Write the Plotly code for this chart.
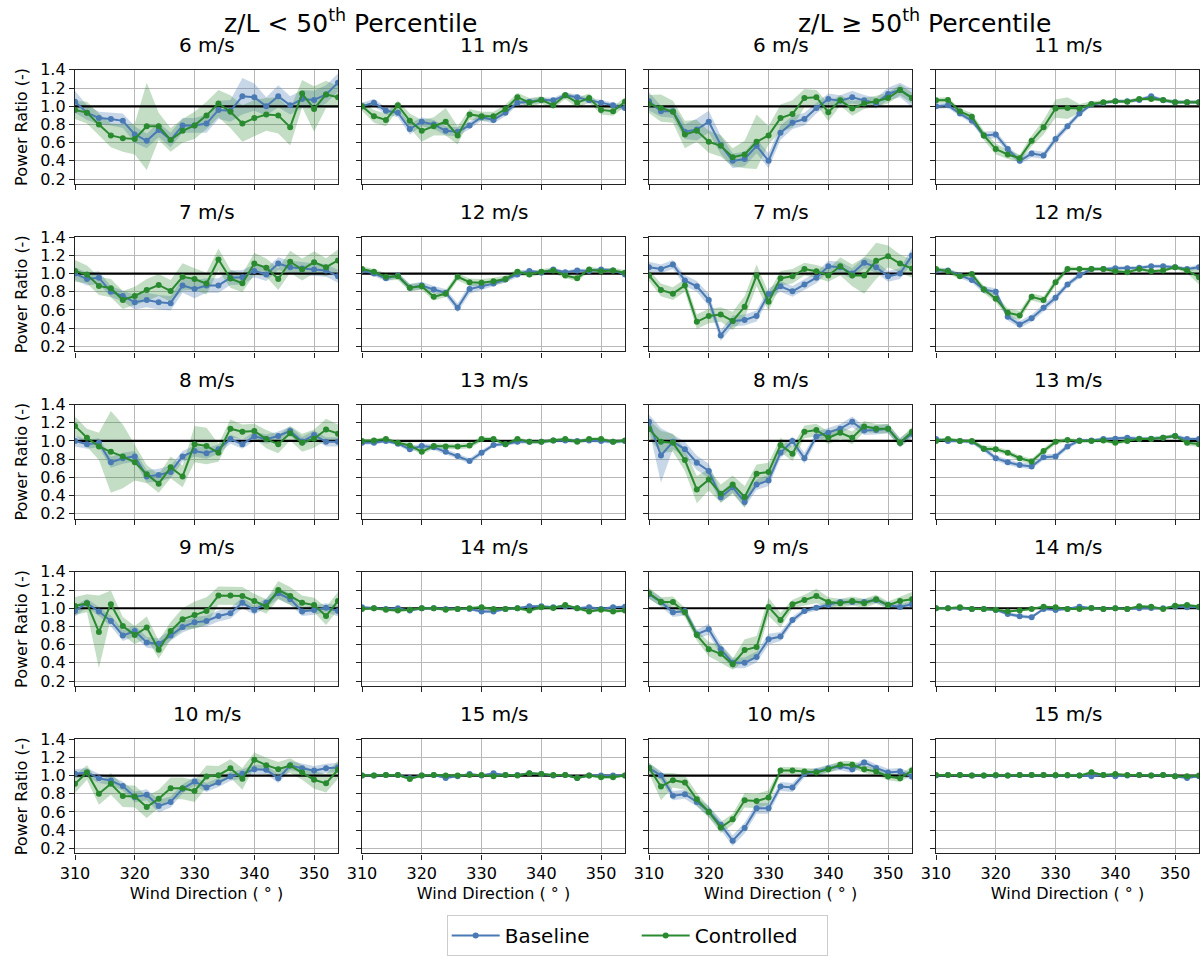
import plotly.graph_objects as go

# ---------------- data ----------------
wind_dir = [310, 312, 314, 316, 318, 320, 322, 324, 326, 328, 330, 332,
            334, 336, 338, 340, 342, 344, 346, 348, 350, 352, 354]
reference_ratio = 1.0

# z/L < 50th percentile
low_6_base = [1.05, 0.93, 0.87, 0.86, 0.84, 0.69, 0.62, 0.74, 0.63, 0.79, 0.79, 0.81, 0.96, 0.95, 1.11, 1.10, 1.00, 1.11, 1.01, 1.08, 1.07, 1.13, 1.26]
low_6_base_err = [0.12, 0.08, 0.07, 0.07, 0.08, 0.09, 0.08, 0.08, 0.08, 0.08, 0.08, 0.10, 0.10, 0.12, 0.20, 0.15, 0.10, 0.12, 0.10, 0.10, 0.10, 0.10, 0.10]
low_6_ctrl = [0.96, 0.93, 0.80, 0.68, 0.65, 0.64, 0.78, 0.78, 0.63, 0.73, 0.79, 0.90, 1.03, 0.94, 0.81, 0.87, 0.91, 0.90, 0.77, 1.14, 0.97, 1.13, 1.10]
low_6_ctrl_err = [0.10, 0.12, 0.12, 0.13, 0.15, 0.17, 0.48, 0.15, 0.13, 0.13, 0.15, 0.15, 0.15, 0.18, 0.20, 0.20, 0.18, 0.20, 0.20, 0.15, 0.25, 0.15, 0.12]

low_7_base = [1.00, 0.94, 0.955, 0.80, 0.755, 0.685, 0.71, 0.685, 0.675, 0.87, 0.83, 0.87, 0.87, 0.955, 0.96, 1.03, 0.99, 1.11, 1.07, 1.055, 1.045, 1.035, 0.97]
low_7_base_err = [0.07, 0.07, 0.07, 0.06, 0.06, 0.08, 0.08, 0.08, 0.08, 0.08, 0.10, 0.08, 0.08, 0.08, 0.08, 0.07, 0.07, 0.07, 0.07, 0.07, 0.07, 0.07, 0.07]
low_7_ctrl = [1.03, 0.99, 0.865, 0.84, 0.71, 0.755, 0.82, 0.875, 0.81, 0.965, 0.94, 0.89, 1.155, 0.945, 0.895, 1.11, 1.065, 0.94, 1.13, 1.045, 1.125, 1.07, 1.145]
low_7_ctrl_err = [0.12, 0.10, 0.10, 0.10, 0.10, 0.10, 0.12, 0.12, 0.12, 0.15, 0.12, 0.12, 0.12, 0.10, 0.10, 0.12, 0.10, 0.12, 0.12, 0.12, 0.12, 0.10, 0.12]

low_8_base = [1.00, 0.965, 0.98, 0.765, 0.81, 0.83, 0.61, 0.625, 0.66, 0.83, 0.89, 0.865, 0.91, 1.02, 0.965, 1.05, 1.02, 1.055, 1.11, 0.995, 1.065, 0.99, 0.99]
low_8_base_err = [0.06, 0.05, 0.05, 0.06, 0.06, 0.06, 0.07, 0.07, 0.07, 0.06, 0.06, 0.06, 0.05, 0.05, 0.05, 0.05, 0.05, 0.05, 0.05, 0.05, 0.05, 0.05, 0.05]
low_8_ctrl = [1.165, 1.035, 0.94, 0.88, 0.83, 0.765, 0.635, 0.53, 0.71, 0.61, 0.965, 0.945, 0.87, 1.135, 1.10, 1.11, 1.02, 0.965, 1.085, 0.98, 1.025, 1.125, 1.08]
low_8_ctrl_err = [0.10, 0.10, 0.15, 0.45, 0.35, 0.20, 0.10, 0.10, 0.12, 0.12, 0.20, 0.20, 0.10, 0.10, 0.08, 0.08, 0.10, 0.10, 0.08, 0.10, 0.10, 0.12, 0.10]

low_9_base = [0.97, 1.055, 0.965, 0.86, 0.70, 0.75, 0.625, 0.61, 0.70, 0.795, 0.845, 0.86, 0.915, 0.945, 1.06, 0.98, 1.06, 1.165, 1.10, 0.965, 0.98, 1.005, 0.97]
low_9_base_err = [0.06, 0.05, 0.05, 0.06, 0.06, 0.06, 0.06, 0.06, 0.06, 0.06, 0.06, 0.06, 0.06, 0.06, 0.06, 0.05, 0.05, 0.06, 0.06, 0.05, 0.05, 0.05, 0.06]
low_9_ctrl = [1.025, 1.055, 0.74, 1.045, 0.805, 0.705, 0.79, 0.545, 0.75, 0.88, 0.925, 0.97, 1.14, 1.14, 1.135, 1.08, 1.02, 1.20, 1.135, 1.06, 1.035, 0.915, 1.08]
low_9_ctrl_err = [0.10, 0.10, 0.40, 0.15, 0.10, 0.10, 0.12, 0.10, 0.10, 0.12, 0.15, 0.15, 0.10, 0.10, 0.10, 0.08, 0.08, 0.10, 0.10, 0.08, 0.08, 0.10, 0.10]

low_10_base = [1.02, 1.035, 0.97, 0.945, 0.885, 0.765, 0.79, 0.665, 0.71, 0.855, 0.935, 0.87, 0.925, 0.99, 1.02, 1.07, 1.065, 0.97, 1.11, 1.08, 1.055, 1.08, 1.09]
low_10_base_err = [0.05, 0.05, 0.05, 0.05, 0.05, 0.06, 0.06, 0.07, 0.06, 0.05, 0.05, 0.05, 0.05, 0.05, 0.05, 0.05, 0.05, 0.05, 0.05, 0.05, 0.05, 0.05, 0.05]
low_10_ctrl = [0.91, 1.035, 0.80, 0.91, 0.775, 0.77, 0.655, 0.745, 0.86, 0.86, 0.83, 0.99, 1.005, 1.08, 0.965, 1.175, 1.115, 1.07, 1.11, 1.035, 0.955, 0.915, 1.065]
low_10_ctrl_err = [0.10, 0.08, 0.12, 0.12, 0.12, 0.12, 0.12, 0.10, 0.12, 0.12, 0.12, 0.12, 0.10, 0.10, 0.12, 0.08, 0.08, 0.08, 0.08, 0.08, 0.10, 0.10, 0.10]

low_11_base = [1.00, 1.04, 0.95, 0.93, 0.75, 0.83, 0.80, 0.73, 0.72, 0.79, 0.88, 0.85, 0.93, 1.04, 1.05, 1.07, 1.065, 1.12, 1.10, 1.065, 1.04, 1.01, 0.98]
low_11_base_err = [0.04, 0.04, 0.04, 0.05, 0.06, 0.05, 0.05, 0.05, 0.05, 0.04, 0.04, 0.04, 0.04, 0.03, 0.03, 0.03, 0.03, 0.03, 0.03, 0.03, 0.03, 0.03, 0.03]
low_11_ctrl = [1.00, 0.89, 0.85, 1.01, 0.84, 0.73, 0.78, 0.83, 0.68, 0.91, 0.89, 0.89, 0.97, 1.10, 1.04, 1.07, 1.01, 1.12, 1.04, 1.09, 0.96, 0.945, 1.05]
low_11_ctrl_err = [0.05, 0.07, 0.07, 0.05, 0.08, 0.12, 0.10, 0.15, 0.10, 0.06, 0.05, 0.05, 0.05, 0.05, 0.05, 0.04, 0.04, 0.04, 0.06, 0.05, 0.05, 0.05, 0.05]

low_12_base = [1.035, 1.00, 0.95, 0.98, 0.845, 0.87, 0.825, 0.79, 0.625, 0.83, 0.86, 0.89, 0.935, 0.99, 1.03, 1.01, 1.045, 1.015, 1.035, 1.03, 1.045, 1.035, 0.99]
low_12_base_err = [0.03, 0.03, 0.03, 0.03, 0.04, 0.04, 0.04, 0.04, 0.05, 0.05, 0.04, 0.03, 0.03, 0.03, 0.02, 0.02, 0.02, 0.02, 0.02, 0.02, 0.02, 0.02, 0.02]
low_12_ctrl = [1.05, 1.02, 0.965, 0.97, 0.845, 0.86, 0.745, 0.78, 0.965, 0.905, 0.90, 0.915, 0.94, 1.02, 0.99, 1.02, 1.035, 0.98, 0.95, 1.045, 1.025, 1.035, 1.01]
low_12_ctrl_err = [0.03, 0.03, 0.04, 0.04, 0.04, 0.04, 0.04, 0.04, 0.04, 0.04, 0.04, 0.04, 0.04, 0.03, 0.03, 0.03, 0.03, 0.03, 0.03, 0.03, 0.03, 0.03, 0.03]

low_13_base = [0.98, 0.98, 1.00, 0.97, 0.91, 0.945, 0.93, 0.88, 0.835, 0.78, 0.87, 0.955, 0.965, 0.99, 0.99, 0.99, 1.005, 1.005, 1.00, 1.005, 1.00, 0.99, 1.00]
low_13_base_err = [0.02, 0.02, 0.02, 0.02, 0.03, 0.03, 0.03, 0.03, 0.03, 0.03, 0.03, 0.02, 0.02, 0.02, 0.02, 0.02, 0.02, 0.02, 0.02, 0.02, 0.02, 0.02, 0.02]
low_13_ctrl = [1.00, 1.005, 1.02, 0.98, 0.95, 0.88, 0.945, 0.94, 0.94, 0.95, 1.02, 1.02, 0.965, 1.02, 0.99, 0.99, 1.005, 1.02, 0.99, 1.02, 1.02, 0.99, 1.005]
low_13_ctrl_err = [0.02, 0.02, 0.02, 0.02, 0.03, 0.03, 0.03, 0.03, 0.03, 0.03, 0.03, 0.02, 0.02, 0.02, 0.02, 0.02, 0.02, 0.02, 0.02, 0.02, 0.02, 0.02, 0.02]

low_14_base = [1.011, 1.0, 0.993, 1.0, 0.975, 1.0, 1.0, 0.993, 0.993, 0.993, 0.964, 0.964, 0.993, 1.0, 1.022, 1.022, 1.011, 1.022, 1.0, 1.011, 0.993, 1.011, 1.018]
low_14_base_err = [0.015, 0.015, 0.015, 0.015, 0.015, 0.015, 0.015, 0.015, 0.015, 0.015, 0.02, 0.02, 0.015, 0.015, 0.015, 0.015, 0.015, 0.015, 0.015, 0.015, 0.015, 0.015, 0.015]
low_14_ctrl = [0.993, 1.0, 0.985, 0.975, 0.985, 1.0, 1.0, 0.985, 0.993, 1.0, 1.011, 0.993, 0.993, 1.0, 0.975, 1.011, 1.004, 1.036, 1.0, 0.964, 0.985, 0.964, 0.975]
low_14_ctrl_err = [0.015, 0.015, 0.015, 0.015, 0.015, 0.015, 0.015, 0.015, 0.015, 0.015, 0.015, 0.015, 0.015, 0.015, 0.015, 0.015, 0.015, 0.015, 0.015, 0.02, 0.015, 0.02, 0.02]

low_15_base = [1.0, 1.0, 1.007, 1.007, 0.975, 1.0, 1.007, 0.975, 0.993, 1.018, 1.0, 1.025, 1.007, 1.007, 1.025, 1.018, 1.0, 1.007, 0.975, 1.0, 1.0, 1.0, 1.0]
low_15_base_err = [0.012, 0.012, 0.012, 0.012, 0.012, 0.012, 0.012, 0.012, 0.012, 0.012, 0.012, 0.012, 0.012, 0.012, 0.012, 0.012, 0.012, 0.012, 0.012, 0.012, 0.012, 0.012, 0.012]
low_15_ctrl = [1.0, 1.0, 1.007, 1.007, 0.964, 1.0, 1.007, 1.0, 1.0, 1.007, 1.007, 0.993, 1.007, 1.0, 1.025, 1.018, 1.007, 1.007, 0.975, 1.0, 0.982, 0.982, 1.0]
low_15_ctrl_err = [0.012, 0.012, 0.012, 0.012, 0.015, 0.012, 0.012, 0.012, 0.012, 0.012, 0.012, 0.012, 0.012, 0.012, 0.012, 0.012, 0.012, 0.012, 0.012, 0.012, 0.012, 0.012, 0.012]

# z/L >= 50th percentile
high_6_base = [1.055, 0.945, 0.945, 0.72, 0.745, 0.83, 0.575, 0.40, 0.42, 0.565, 0.40, 0.71, 0.82, 0.86, 0.98, 1.08, 1.06, 1.10, 1.065, 1.035, 1.135, 1.18, 1.09]
high_6_base_err = [0.10, 0.06, 0.07, 0.08, 0.12, 0.12, 0.10, 0.08, 0.08, 0.08, 0.08, 0.08, 0.07, 0.07, 0.06, 0.06, 0.06, 0.07, 0.06, 0.06, 0.07, 0.08, 0.10]
high_6_ctrl = [1.025, 0.98, 0.94, 0.69, 0.73, 0.61, 0.565, 0.44, 0.47, 0.61, 0.68, 0.87, 0.915, 1.09, 1.10, 0.935, 1.065, 0.975, 1.03, 1.055, 1.09, 1.18, 1.09]
high_6_ctrl_err = [0.10, 0.15, 0.12, 0.15, 0.12, 0.12, 0.12, 0.10, 0.15, 0.30, 0.10, 0.15, 0.15, 0.10, 0.08, 0.10, 0.06, 0.08, 0.06, 0.06, 0.06, 0.06, 0.06]

high_7_base = [1.07, 1.05, 1.10, 0.925, 0.86, 0.71, 0.32, 0.48, 0.49, 0.535, 0.775, 0.86, 0.805, 0.88, 0.955, 1.08, 1.07, 1.00, 1.12, 1.07, 0.97, 1.00, 1.20]
high_7_base_err = [0.06, 0.05, 0.05, 0.06, 0.06, 0.07, 0.06, 0.06, 0.06, 0.06, 0.06, 0.06, 0.06, 0.06, 0.06, 0.06, 0.06, 0.06, 0.06, 0.06, 0.06, 0.06, 0.08]
high_7_ctrl = [0.98, 0.82, 0.78, 0.87, 0.47, 0.535, 0.55, 0.48, 0.635, 0.98, 0.69, 0.95, 0.97, 1.05, 1.025, 0.98, 1.08, 0.98, 0.98, 1.14, 1.19, 1.11, 1.055]
high_7_ctrl_err = [0.06, 0.07, 0.07, 0.07, 0.08, 0.08, 0.08, 0.10, 0.12, 0.12, 0.10, 0.08, 0.08, 0.07, 0.07, 0.07, 0.10, 0.12, 0.20, 0.20, 0.12, 0.10, 0.10]

high_8_base = [1.21, 0.84, 0.99, 0.91, 0.76, 0.67, 0.38, 0.49, 0.33, 0.52, 0.565, 0.87, 1.00, 0.81, 1.05, 1.09, 1.135, 1.21, 1.115, 1.12, 1.135, 0.98, 1.08]
high_8_base_err = [0.08, 0.30, 0.08, 0.08, 0.08, 0.08, 0.06, 0.06, 0.06, 0.06, 0.06, 0.06, 0.05, 0.06, 0.05, 0.05, 0.05, 0.06, 0.05, 0.05, 0.05, 0.05, 0.05]
high_8_ctrl = [1.13, 0.99, 0.98, 0.79, 0.465, 0.575, 0.42, 0.52, 0.385, 0.64, 0.66, 0.955, 0.86, 1.10, 1.12, 1.035, 1.09, 1.035, 1.16, 1.135, 1.135, 0.98, 1.10]
high_8_ctrl_err = [0.10, 0.12, 0.10, 0.12, 0.15, 0.12, 0.10, 0.10, 0.12, 0.10, 0.10, 0.08, 0.08, 0.07, 0.07, 0.07, 0.07, 0.07, 0.06, 0.05, 0.05, 0.05, 0.05]

high_9_base = [1.155, 1.07, 0.955, 0.97, 0.715, 0.77, 0.55, 0.40, 0.40, 0.465, 0.66, 0.69, 0.87, 0.97, 1.005, 1.035, 1.07, 1.07, 1.07, 1.09, 1.035, 1.015, 1.045]
high_9_base_err = [0.05, 0.05, 0.05, 0.05, 0.05, 0.06, 0.06, 0.06, 0.06, 0.06, 0.06, 0.05, 0.04, 0.03, 0.03, 0.03, 0.03, 0.03, 0.03, 0.03, 0.03, 0.03, 0.03]
high_9_ctrl = [1.165, 1.07, 1.07, 0.955, 0.705, 0.55, 0.50, 0.385, 0.54, 0.575, 1.015, 0.87, 1.045, 1.09, 1.135, 1.07, 1.055, 1.08, 1.055, 1.10, 1.035, 1.08, 1.10]
high_9_ctrl_err = [0.06, 0.05, 0.06, 0.05, 0.06, 0.08, 0.10, 0.06, 0.12, 0.12, 0.10, 0.08, 0.05, 0.06, 0.08, 0.05, 0.05, 0.05, 0.05, 0.05, 0.04, 0.05, 0.08]

high_10_base = [1.085, 1.00, 0.78, 0.795, 0.71, 0.605, 0.46, 0.285, 0.425, 0.64, 0.64, 0.88, 0.87, 1.02, 1.045, 1.08, 1.10, 1.07, 1.145, 1.085, 1.035, 1.045, 0.99]
high_10_base_err = [0.05, 0.05, 0.05, 0.05, 0.05, 0.06, 0.06, 0.06, 0.06, 0.06, 0.06, 0.05, 0.05, 0.04, 0.04, 0.04, 0.04, 0.04, 0.04, 0.04, 0.04, 0.04, 0.04]
high_10_ctrl = [1.085, 0.88, 0.95, 0.925, 0.74, 0.60, 0.43, 0.52, 0.73, 0.72, 0.76, 1.055, 1.055, 1.045, 1.035, 1.07, 1.12, 1.12, 1.07, 1.045, 0.99, 0.97, 1.055]
high_10_ctrl_err = [0.06, 0.15, 0.08, 0.08, 0.07, 0.06, 0.06, 0.06, 0.08, 0.08, 0.08, 0.04, 0.04, 0.04, 0.04, 0.04, 0.04, 0.04, 0.04, 0.04, 0.04, 0.04, 0.05]

high_11_base = [1.00, 1.01, 0.92, 0.84, 0.68, 0.69, 0.53, 0.40, 0.48, 0.46, 0.64, 0.78, 0.92, 1.02, 1.04, 1.055, 1.055, 1.07, 1.11, 1.065, 1.045, 1.045, 1.045]
high_11_base_err = [0.03, 0.03, 0.03, 0.03, 0.04, 0.04, 0.04, 0.04, 0.04, 0.04, 0.04, 0.04, 0.03, 0.02, 0.02, 0.02, 0.02, 0.02, 0.02, 0.02, 0.02, 0.02, 0.02]
high_11_ctrl = [1.065, 1.07, 0.945, 0.885, 0.68, 0.53, 0.47, 0.43, 0.62, 0.77, 0.975, 0.98, 0.975, 1.025, 1.045, 1.055, 1.05, 1.08, 1.08, 1.07, 1.045, 1.045, 1.045]
high_11_ctrl_err = [0.03, 0.03, 0.03, 0.04, 0.05, 0.06, 0.05, 0.04, 0.06, 0.08, 0.10, 0.12, 0.05, 0.03, 0.02, 0.02, 0.02, 0.02, 0.02, 0.02, 0.02, 0.02, 0.02]

high_12_base = [1.035, 1.035, 0.98, 0.93, 0.825, 0.80, 0.525, 0.44, 0.51, 0.625, 0.735, 0.88, 0.98, 1.05, 1.05, 1.06, 1.06, 1.065, 1.08, 1.08, 1.07, 1.05, 1.07]
high_12_base_err = [0.02, 0.02, 0.03, 0.03, 0.04, 0.04, 0.04, 0.04, 0.04, 0.04, 0.04, 0.03, 0.03, 0.02, 0.02, 0.02, 0.02, 0.02, 0.02, 0.02, 0.02, 0.02, 0.03]
high_12_ctrl = [1.05, 1.025, 0.97, 0.995, 0.825, 0.725, 0.57, 0.54, 0.745, 0.71, 0.905, 1.05, 1.05, 1.05, 1.05, 1.025, 1.015, 1.05, 1.025, 1.035, 1.07, 1.035, 0.96]
high_12_ctrl_err = [0.02, 0.03, 0.03, 0.03, 0.04, 0.04, 0.05, 0.05, 0.04, 0.04, 0.04, 0.03, 0.02, 0.02, 0.02, 0.02, 0.02, 0.02, 0.02, 0.02, 0.02, 0.03, 0.08]

high_13_base = [1.02, 1.00, 1.00, 0.99, 0.915, 0.81, 0.765, 0.735, 0.72, 0.82, 0.83, 0.94, 1.005, 1.005, 1.02, 1.025, 1.035, 1.025, 1.025, 1.035, 1.055, 1.02, 1.02]
high_13_base_err = [0.02, 0.02, 0.02, 0.02, 0.03, 0.03, 0.03, 0.03, 0.03, 0.03, 0.03, 0.03, 0.02, 0.02, 0.02, 0.02, 0.02, 0.02, 0.02, 0.02, 0.02, 0.02, 0.02]
high_13_ctrl = [1.00, 1.02, 1.00, 1.00, 0.915, 0.91, 0.87, 0.81, 0.775, 0.89, 0.99, 1.01, 1.00, 1.00, 1.005, 0.98, 1.00, 1.02, 1.02, 1.035, 1.055, 0.98, 0.965]
high_13_ctrl_err = [0.02, 0.02, 0.02, 0.02, 0.03, 0.03, 0.03, 0.03, 0.03, 0.03, 0.03, 0.02, 0.02, 0.02, 0.02, 0.02, 0.02, 0.02, 0.02, 0.02, 0.02, 0.03, 0.03]

high_14_base = [1.0, 1.0, 1.004, 0.993, 0.993, 0.982, 0.938, 0.913, 0.902, 0.993, 0.982, 0.993, 1.018, 1.0, 0.993, 1.0, 0.993, 1.0, 1.004, 1.0, 1.018, 1.011, 1.011]
high_14_base_err = [0.012, 0.012, 0.012, 0.012, 0.012, 0.015, 0.02, 0.02, 0.02, 0.015, 0.012, 0.012, 0.012, 0.012, 0.012, 0.012, 0.012, 0.012, 0.012, 0.012, 0.012, 0.012, 0.012]
high_14_ctrl = [1.0, 1.0, 1.011, 0.993, 0.993, 0.985, 0.964, 0.975, 0.993, 1.018, 1.011, 0.993, 0.993, 1.004, 0.993, 1.0, 0.993, 1.022, 1.018, 0.993, 1.029, 1.036, 1.018]
high_14_ctrl_err = [0.012, 0.012, 0.012, 0.012, 0.012, 0.012, 0.012, 0.012, 0.012, 0.012, 0.012, 0.012, 0.012, 0.012, 0.012, 0.012, 0.012, 0.012, 0.012, 0.012, 0.015, 0.015, 0.015]

high_15_base = [1.0, 1.007, 1.007, 1.0, 1.0, 1.0, 1.0, 1.007, 1.007, 1.007, 1.0, 1.0, 1.0, 0.993, 1.007, 0.993, 1.0, 1.007, 1.0, 1.007, 0.993, 0.975, 0.993]
high_15_base_err = [0.01, 0.01, 0.01, 0.01, 0.01, 0.01, 0.01, 0.01, 0.01, 0.01, 0.01, 0.01, 0.01, 0.012, 0.01, 0.01, 0.01, 0.01, 0.01, 0.01, 0.01, 0.012, 0.01]
high_15_ctrl = [1.007, 1.007, 1.007, 1.0, 1.0, 1.007, 1.0, 1.007, 1.007, 1.007, 1.007, 1.007, 1.0, 1.036, 1.007, 1.018, 1.007, 1.007, 1.0, 1.007, 0.993, 0.993, 1.0]
high_15_ctrl_err = [0.01, 0.01, 0.01, 0.01, 0.01, 0.01, 0.01, 0.01, 0.01, 0.01, 0.01, 0.01, 0.01, 0.015, 0.01, 0.01, 0.01, 0.01, 0.01, 0.01, 0.01, 0.01, 0.01]

# panel grid: column -> rows of (title, base, base_err, ctrl, ctrl_err)
panels = [
    [("6 m/s", low_6_base, low_6_base_err, low_6_ctrl, low_6_ctrl_err),
     ("7 m/s", low_7_base, low_7_base_err, low_7_ctrl, low_7_ctrl_err),
     ("8 m/s", low_8_base, low_8_base_err, low_8_ctrl, low_8_ctrl_err),
     ("9 m/s", low_9_base, low_9_base_err, low_9_ctrl, low_9_ctrl_err),
     ("10 m/s", low_10_base, low_10_base_err, low_10_ctrl, low_10_ctrl_err)],
    [("11 m/s", low_11_base, low_11_base_err, low_11_ctrl, low_11_ctrl_err),
     ("12 m/s", low_12_base, low_12_base_err, low_12_ctrl, low_12_ctrl_err),
     ("13 m/s", low_13_base, low_13_base_err, low_13_ctrl, low_13_ctrl_err),
     ("14 m/s", low_14_base, low_14_base_err, low_14_ctrl, low_14_ctrl_err),
     ("15 m/s", low_15_base, low_15_base_err, low_15_ctrl, low_15_ctrl_err)],
    [("6 m/s", high_6_base, high_6_base_err, high_6_ctrl, high_6_ctrl_err),
     ("7 m/s", high_7_base, high_7_base_err, high_7_ctrl, high_7_ctrl_err),
     ("8 m/s", high_8_base, high_8_base_err, high_8_ctrl, high_8_ctrl_err),
     ("9 m/s", high_9_base, high_9_base_err, high_9_ctrl, high_9_ctrl_err),
     ("10 m/s", high_10_base, high_10_base_err, high_10_ctrl, high_10_ctrl_err)],
    [("11 m/s", high_11_base, high_11_base_err, high_11_ctrl, high_11_ctrl_err),
     ("12 m/s", high_12_base, high_12_base_err, high_12_ctrl, high_12_ctrl_err),
     ("13 m/s", high_13_base, high_13_base_err, high_13_ctrl, high_13_ctrl_err),
     ("14 m/s", high_14_base, high_14_base_err, high_14_ctrl, high_14_ctrl_err),
     ("15 m/s", high_15_base, high_15_base_err, high_15_ctrl, high_15_ctrl_err)],
]

group_titles = ["z/L &lt; 50<sup>th</sup> Percentile", "z/L ≥ 50<sup>th</sup> Percentile"]
y_ticks = [0.2, 0.4, 0.6, 0.8, 1.0, 1.2, 1.4]
x_ticks = [310, 320, 330, 340, 350]

# ---------------- styling ----------------
W, H = 1200, 956
FONT = "DejaVu Sans"
BLUE = "#4a7ab4"
GREEN = "#2a8a30"
BLUE_FILL = "rgba(74,122,180,0.30)"
GREEN_FILL = "rgba(42,138,48,0.28)"
AX_COLOR = "#222222"
TICK_SIZE = 16
LABEL_SIZE = 16
TITLE_SIZE = 20

col_left = [75, 362, 649, 936]
plot_w = 263
row_top = [71, 241, 411, 581, 751]
plot_h = 116

fig = go.Figure()
annotations = []
layout_axes = {}

for c in range(4):
    for r in range(5):
        n = r * 4 + c + 1
        xs = "" if n == 1 else str(n)
        xname, yname = "x" + xs, "y" + xs
        title, base, base_err, ctrl, ctrl_err = panels[c][r]

        x0 = col_left[c] / W
        x1 = (col_left[c] + plot_w) / W
        y1 = 1 - row_top[r] / H
        y0 = 1 - (row_top[r] + plot_h) / H

        # uncertainty bands
        for mean, err, fillc in ((base, base_err, BLUE_FILL), (ctrl, ctrl_err, GREEN_FILL)):
            upper = [m + e for m, e in zip(mean, err)]
            lower = [m - e for m, e in zip(mean, err)]
            fig.add_trace(go.Scatter(
                x=wind_dir + wind_dir[::-1], y=upper + lower[::-1],
                fill="toself", fillcolor=fillc, line=dict(width=0),
                mode="lines", hoverinfo="skip", showlegend=False,
                xaxis=xname, yaxis=yname))

        # reference line at power ratio 1
        fig.add_trace(go.Scatter(
            x=[wind_dir[0], wind_dir[-1]], y=[reference_ratio, reference_ratio],
            mode="lines", line=dict(color="black", width=2.2),
            hoverinfo="skip", showlegend=False, xaxis=xname, yaxis=yname))

        first = (n == 1)
        fig.add_trace(go.Scatter(
            x=wind_dir, y=base, mode="lines+markers", name="Baseline",
            line=dict(color=BLUE, width=2), marker=dict(color=BLUE, size=6),
            showlegend=first, legendgroup="b", xaxis=xname, yaxis=yname))
        fig.add_trace(go.Scatter(
            x=wind_dir, y=ctrl, mode="lines+markers", name="Controlled",
            line=dict(color=GREEN, width=2), marker=dict(color=GREEN, size=6),
            showlegend=first, legendgroup="c", xaxis=xname, yaxis=yname))

        bottom = (r == 4)
        left = (c == 0)
        xax = dict(
            domain=[x0, x1], anchor=yname, range=[310, 354], automargin=False,
            tickmode="array", tickvals=x_ticks, ticktext=[str(v) for v in x_ticks],
            showticklabels=bottom, ticks="outside", ticklen=5, tickwidth=1.2,
            tickcolor=AX_COLOR, showline=True, mirror=True, linecolor=AX_COLOR,
            linewidth=1.3, showgrid=True, gridcolor="#b8b8b8", gridwidth=1.2,
            zeroline=False, tickfont=dict(size=TICK_SIZE, family=FONT, color="black"))
        if bottom:
            xax["title"] = dict(text="Wind Direction ( ° )",
                                font=dict(size=LABEL_SIZE, family=FONT, color="black"),
                                standoff=6)
        yax = dict(
            domain=[y0, y1], anchor=xname, range=[0.145, 1.4], automargin=False,
            tickmode="array", tickvals=y_ticks, ticktext=[f"{v:.1f}" for v in y_ticks],
            showticklabels=left, ticks="outside", ticklen=5, tickwidth=1.2,
            tickcolor=AX_COLOR, showline=True, mirror=True, linecolor=AX_COLOR,
            linewidth=1.3, showgrid=True, gridcolor="#b8b8b8", gridwidth=1.2,
            zeroline=False, tickfont=dict(size=TICK_SIZE, family=FONT, color="black"))
        if left:
            yax["title"] = dict(text="Power Ratio (-)",
                                font=dict(size=LABEL_SIZE, family=FONT, color="black"),
                                standoff=8)
        layout_axes["xaxis" + xs] = xax
        layout_axes["yaxis" + xs] = yax

        annotations.append(dict(
            text=title, xref="paper", yref="paper", x=(x0 + x1) / 2, y=y1,
            xanchor="center", yanchor="middle", yshift=25, showarrow=False,
            font=dict(size=TITLE_SIZE, family=FONT, color="black")))

for g in range(2):
    xl = col_left[2 * g] / W
    xr = (col_left[2 * g + 1] + plot_w) / W
    annotations.append(dict(
        text=group_titles[g], xref="paper", yref="paper", x=(xl + xr) / 2,
        y=1 - 22 / H, xanchor="center", yanchor="middle", showarrow=False,
        font=dict(size=25, family=FONT, color="black")))

fig.update_layout(
    width=W, height=H, autosize=False,
    margin=dict(l=0, r=0, t=0, b=0),
    paper_bgcolor="white", plot_bgcolor="white",
    font=dict(family=FONT, color="black"),
    annotations=annotations,
    legend=dict(orientation="h", x=0.531, xanchor="center", y=1 - 930 / H,
                yanchor="top", bordercolor="#cccccc", borderwidth=1,
                bgcolor="white", font=dict(size=20, family=FONT, color="black"),
                itemwidth=48, entrywidth=127),
    **layout_axes,
)

fig.write_html("out.html", config={"displayModeBar": False},
               post_script="document.body.style.margin='0px';")
